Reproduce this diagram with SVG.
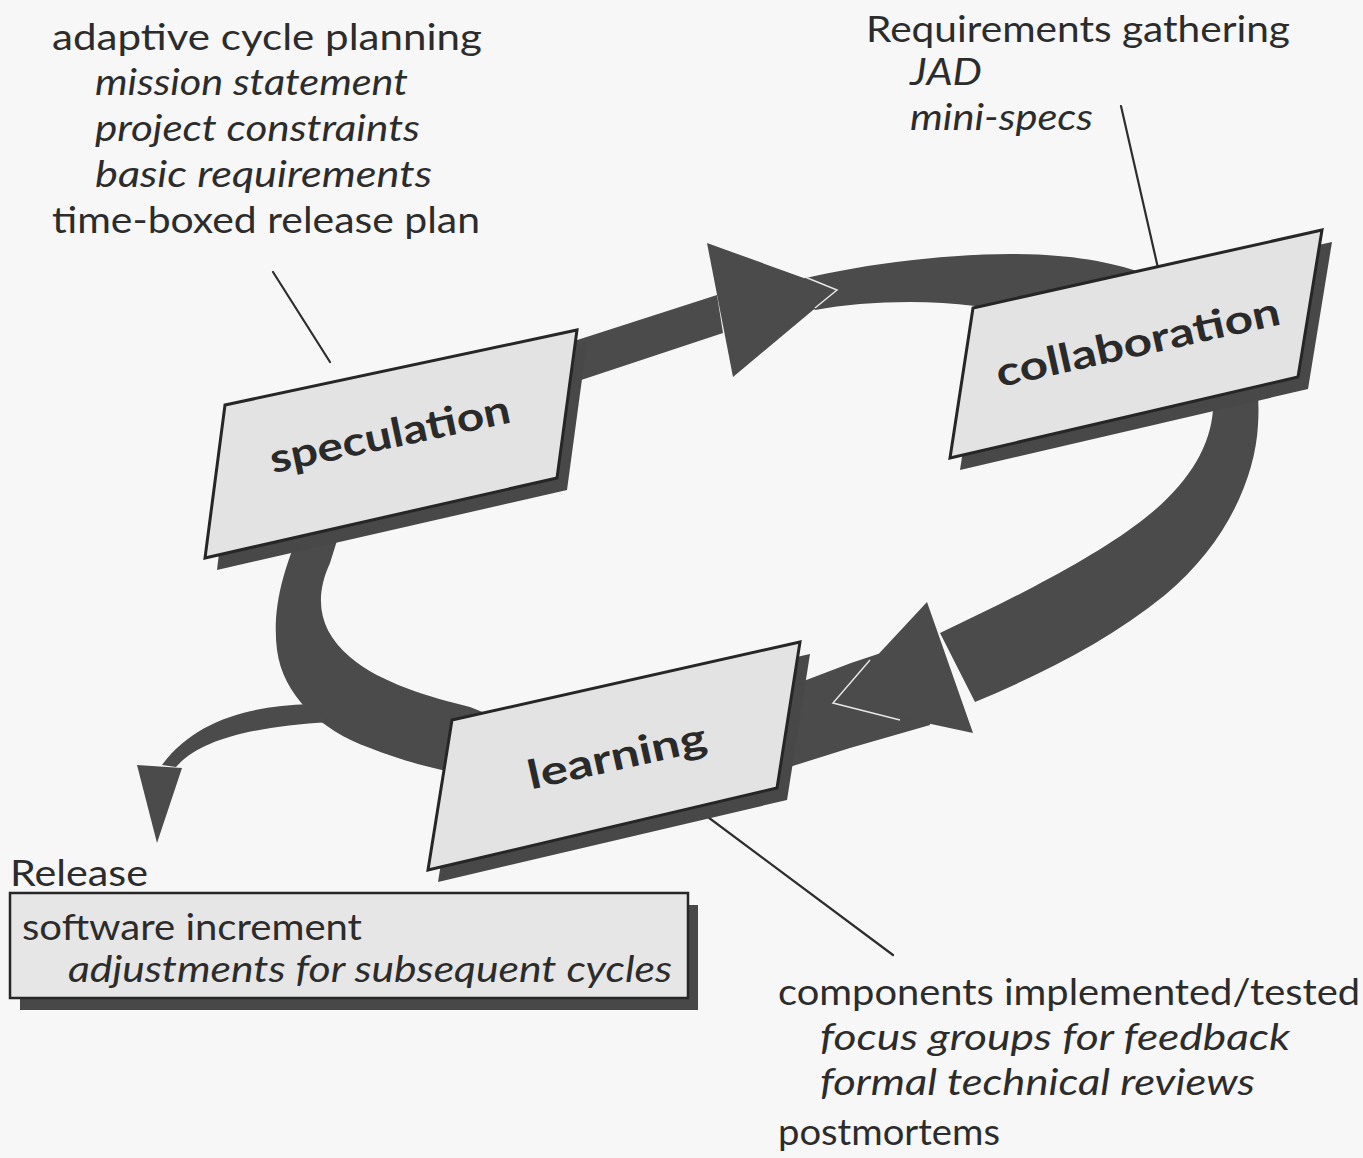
<svg xmlns="http://www.w3.org/2000/svg" width="1363" height="1158" viewBox="0 0 1363 1158">
  <style>
    .band { fill: #4b4b4b; }
    .shadow { fill: #484848; }
    .card { fill: #e3e3e3; stroke: #262626; stroke-width: 3; stroke-linejoin: miter; }
    .glint { fill: none; stroke: #e6e6e6; stroke-width: 1.5; }
    .lead { fill: none; stroke: #2e2e2e; stroke-width: 2.2; stroke-linecap: round; }
    .note { font-family: Lato, "Liberation Sans", sans-serif; font-size: 37px; fill: #2c2c2c; }
    .note-i { font-style: italic; }
    .label { font-family: Lato, "Liberation Sans", sans-serif; font-weight: bold; font-size: 40px; fill: #2a2a2a; text-anchor: middle; }
  </style>

  <rect width="1363" height="1158" fill="#f7f7f7"/>

  <!-- cycle band and arrows -->
  <g id="connectors">
    <!-- speculation to collaboration -->
    <path class="band" d="M 540,352 L 717,295 L 723,333 L 545,392 Z"/>
    <path class="band" d="M 790,282 C 850,266 940,254 1010,254 C 1070,254 1110,262 1140,272 L 1140,330 L 975,306 C 920,299 860,302 815,310 Z"/>
    <path class="band" d="M 707,243 L 837,290 L 733,377 Z"/>
    <polyline class="glint" points="805,277 837,290 815,308"/>

    <!-- collaboration to learning -->
    <path class="band" d="M 1245,330 C 1256,360 1260,395 1258,425 C 1255,480 1225,545 1165,595 C 1110,640 1040,675 975,702 L 940,633 C 1010,600 1090,560 1140,522 C 1185,488 1210,450 1213,410 C 1215,380 1212,355 1205,335 Z"/>
    <path class="band" d="M 920,640 L 851,663 L 780,690 L 780,770 L 850,748 L 930,725 Z"/>
    <path class="band" d="M 927,602 L 973,733 L 833,703 Z"/>
    <polyline class="glint" points="870,660 833,703 900,720"/>

    <!-- learning back to speculation -->
    <path class="band" d="M 305,520 C 282,570 272,610 277,650 C 283,695 320,730 370,748 C 400,760 430,768 470,776 L 490,780 L 490,715 L 470,707 C 430,697 380,683 350,657 C 320,632 313,600 330,563 L 345,515 Z"/>

    <!-- exit towards release -->
    <path class="band" d="M 310,704 C 250,706 195,720 162,765 L 176,767 C 200,740 250,727 330,722 Z"/>
    <path class="band" d="M 137,765 L 182,768 L 157,843 Z"/>

    <!-- callout leaders -->
    <line class="lead" x1="273" y1="272" x2="330" y2="362"/>
    <line class="lead" x1="1121" y1="106" x2="1163" y2="290"/>
    <line class="lead" x1="677" y1="794" x2="893" y2="955"/>
  </g>

  <g id="speculation">
    <polygon class="shadow" points="235,417 587,342 567,490 217,570"/>
    <polygon class="card" points="225,405 577,330 557,478 205,558"/>
    <text class="label" x="390" y="448" textLength="245" lengthAdjust="spacingAndGlyphs" transform="rotate(-12 390 435)">speculation</text>
  </g>

  <g id="collaboration">
    <polygon class="shadow" points="983,320 1332,242 1308,389 960,470"/>
    <polygon class="card" points="973,308 1322,230 1298,377 950,458"/>
    <text class="label" x="1138" y="356" textLength="290" lengthAdjust="spacingAndGlyphs" transform="rotate(-12.6 1138 343)">collaboration</text>
  </g>

  <g id="learning">
    <polygon class="shadow" points="462,732 810,654 787,800 438,882"/>
    <polygon class="card" points="452,720 800,642 777,788 428,870"/>
    <text class="label" x="617" y="770" textLength="182" lengthAdjust="spacingAndGlyphs" transform="rotate(-12.6 617 757)">learning</text>
  </g>

  <g id="release">
    <rect class="shadow" x="20" y="905" width="678" height="105"/>
    <rect class="card" x="10" y="893" width="678" height="105" style="fill:#e6e6e6;stroke-width:2.5"/>
    <text class="note" x="10" y="886" textLength="138" lengthAdjust="spacingAndGlyphs">Release</text>
    <text class="note" x="22" y="940" textLength="340" lengthAdjust="spacingAndGlyphs">software increment</text>
    <text class="note note-i" x="68" y="982" textLength="604" lengthAdjust="spacingAndGlyphs">adjustments for subsequent cycles</text>
  </g>

  <g id="speculation-notes">
    <text class="note" x="52" y="50" textLength="430" lengthAdjust="spacingAndGlyphs">adaptive cycle planning</text>
    <text class="note note-i" x="95" y="95" textLength="313" lengthAdjust="spacingAndGlyphs">mission statement</text>
    <text class="note note-i" x="95" y="141" textLength="325" lengthAdjust="spacingAndGlyphs">project constraints</text>
    <text class="note note-i" x="95" y="187" textLength="337" lengthAdjust="spacingAndGlyphs">basic requirements</text>
    <text class="note" x="52" y="233" textLength="428" lengthAdjust="spacingAndGlyphs">time-boxed release plan</text>
  </g>

  <g id="collaboration-notes">
    <text class="note" x="866" y="42" textLength="424" lengthAdjust="spacingAndGlyphs">Requirements gathering</text>
    <text class="note note-i" x="910" y="85" textLength="72" lengthAdjust="spacingAndGlyphs">JAD</text>
    <text class="note note-i" x="910" y="130" textLength="183" lengthAdjust="spacingAndGlyphs">mini-specs</text>
  </g>

  <g id="learning-notes">
    <text class="note" x="778" y="1005" textLength="582" lengthAdjust="spacingAndGlyphs">components implemented/tested</text>
    <text class="note note-i" x="820" y="1050" textLength="470" lengthAdjust="spacingAndGlyphs">focus groups for feedback</text>
    <text class="note note-i" x="820" y="1095" textLength="435" lengthAdjust="spacingAndGlyphs">formal technical reviews</text>
    <text class="note" x="778" y="1145" textLength="222" lengthAdjust="spacingAndGlyphs">postmortems</text>
  </g>
</svg>
